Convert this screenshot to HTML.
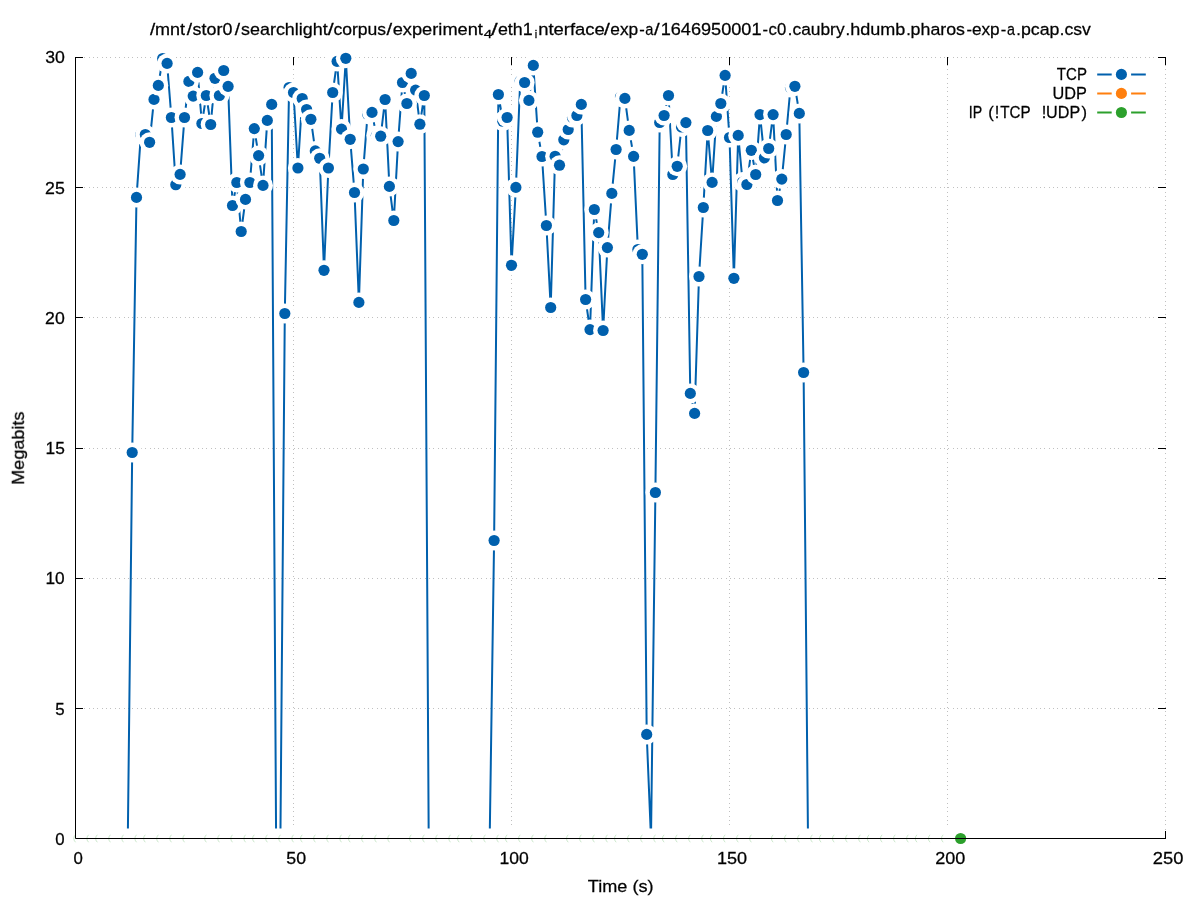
<!DOCTYPE html>
<html><head><meta charset="utf-8"><title>pcap throughput</title>
<style>html,body{margin:0;padding:0;background:#fff;}svg{display:block;}text{font-family:"Liberation Sans",sans-serif;fill:#000;}</style></head><body>
<svg width="1197" height="900" viewBox="0 0 1197 900">
<rect width="1197" height="900" fill="#fff"/>
<g stroke="#c0c0c0" stroke-width="1" stroke-dasharray="1 3 1 3 1 4 1 3 1 3 1 4 1 3 1 3 1 4 1 3 1 4" fill="none" shape-rendering="crispEdges">
<path d="M76.0 708.50H1165.5"/>
<path d="M76.0 578.50H1165.5"/>
<path d="M76.0 448.50H1165.5"/>
<path d="M76.0 317.50H1165.5"/>
<path d="M76.0 187.50H1165.5"/>
<path d="M76.0 57.50H1165.5"/>
<path d="M293.50 838.0V57.5"/>
<path d="M511.50 838.0V57.5"/>
<path d="M729.50 838.0V57.5"/>
<path d="M947.50 838.0V57.5"/>
<path d="M1165.50 838.0V57.5"/>
</g>
<g stroke="#000" stroke-width="1" fill="none">
<path d="M75.0 838.50h8.0M1166.0 838.50h-8.0"/>
<path d="M75.0 708.50h8.0M1166.0 708.50h-8.0"/>
<path d="M75.0 578.50h8.0M1166.0 578.50h-8.0"/>
<path d="M75.0 448.50h8.0M1166.0 448.50h-8.0"/>
<path d="M75.0 317.50h8.0M1166.0 317.50h-8.0"/>
<path d="M75.0 187.50h8.0M1166.0 187.50h-8.0"/>
<path d="M75.0 57.50h8.0M1166.0 57.50h-8.0"/>
<path d="M75.50 839.0v-8.0M75.50 57.0v8.0"/>
<path d="M293.50 839.0v-8.0M293.50 57.0v8.0"/>
<path d="M511.50 839.0v-8.0M511.50 57.0v8.0"/>
<path d="M729.50 839.0v-8.0M729.50 57.0v8.0"/>
<path d="M947.50 839.0v-8.0M947.50 57.0v8.0"/>
<path d="M1165.50 839.0v-8.0M1165.50 57.0v8.0"/>
</g>
<polyline fill="none" stroke="#0060ad" stroke-width="2" stroke-linejoin="round" points="75.5,838.5 79.9,838.5 84.2,838.5 88.6,838.5 92.9,838.5 97.3,838.5 101.7,838.5 106.0,838.5 110.4,838.5 114.7,838.5 119.1,838.5 123.5,838.5 127.8,838.5 132.2,452.5 136.5,197.4 140.9,134.4 145.3,134.5 149.6,142.3 154.0,99.4 158.3,85.4 162.7,58.5 167.1,63.4 171.4,117.5 175.8,184.7 180.1,174.4 184.5,117.5 188.9,81.4 193.2,96.1 197.6,72.4 201.9,123.5 206.3,95.5 210.7,124.5 215.0,78.3 219.4,95.5 223.7,70.5 228.1,86.4 232.5,205.5 236.8,182.5 241.2,231.5 245.5,199.4 249.9,182.5 254.3,128.6 258.6,155.6 263.0,185.4 267.3,120.4 271.7,104.4 276.1,838.5 280.4,838.5 284.8,313.5 289.1,87.5 293.5,92.5 297.9,168.0 302.2,98.5 306.6,109.5 310.9,119.3 315.3,150.9 319.7,158.3 324.0,270.3 328.4,168.0 332.7,92.5 337.1,61.4 341.5,129.1 345.8,58.3 350.2,139.3 354.5,192.5 358.9,302.4 363.3,169.0 367.6,114.2 372.0,112.4 376.3,135.6 380.7,136.2 385.1,99.5 389.4,186.4 393.8,220.5 398.1,141.6 402.5,82.5 406.9,103.5 411.2,73.4 415.6,90.1 419.9,124.2 424.3,95.5 428.7,838.5 433.0,838.5 437.4,838.5 441.7,838.5 446.1,838.5 450.5,838.5 454.8,838.5 459.2,838.5 463.5,838.5 467.9,838.5 472.3,838.5 476.6,838.5 481.0,838.5 485.3,838.5 489.7,838.5 494.1,540.5 498.4,94.5 502.8,121.2 507.1,117.5 511.5,265.3 515.9,187.4 520.2,81.0 524.6,82.5 528.9,100.4 533.3,65.4 537.7,132.2 542.0,156.5 546.4,225.5 550.7,307.5 555.1,156.3 559.5,165.2 563.8,139.8 568.2,129.5 572.5,117.5 576.9,115.5 581.3,104.4 585.6,299.5 590.0,329.6 594.3,209.5 598.7,232.6 603.1,330.5 607.4,247.6 611.8,193.4 616.1,149.5 620.5,97.0 624.9,98.4 629.2,130.4 633.6,156.4 637.9,249.5 642.3,254.3 646.7,734.4 651.0,838.5 655.4,492.5 659.7,122.5 664.1,115.5 668.5,95.5 672.8,174.5 677.2,166.3 681.5,127.0 685.9,122.6 690.3,393.4 694.6,413.4 699.0,276.5 703.3,207.5 707.7,130.5 712.1,182.4 716.4,116.4 720.8,103.5 725.1,75.4 729.5,137.5 733.9,278.3 738.2,135.4 742.6,182.0 746.9,184.5 751.3,150.3 755.7,174.5 760.0,114.6 764.4,157.8 768.7,148.5 773.1,114.6 777.5,200.5 781.8,179.1 786.2,134.5 790.5,87.5 794.9,86.3 799.3,113.4 803.6,372.5 808.0,838.5 812.3,838.5 816.7,838.5 821.1,838.5 825.4,838.5 829.8,838.5 834.1,838.5 838.5,838.5 842.9,838.5 847.2,838.5 851.6,838.5 855.9,838.5 860.3,838.5 864.7,838.5 869.0,838.5 873.4,838.5 877.7,838.5 882.1,838.5 886.5,838.5 890.8,838.5 895.2,838.5 899.5,838.5 903.9,838.5 908.3,838.5 912.6,838.5 917.0,838.5 921.3,838.5 925.7,838.5 930.1,838.5 934.4,838.5 938.8,838.5 943.1,838.5 947.5,838.5 951.9,838.5 956.2,838.5 960.6,838.5"/>
<g>
<circle cx="132.2" cy="452.5" r="10.0" fill="#fff"/><circle cx="132.2" cy="452.5" r="5.6" fill="#0060ad"/>
<circle cx="136.5" cy="197.4" r="10.0" fill="#fff"/><circle cx="136.5" cy="197.4" r="5.6" fill="#0060ad"/>
<circle cx="140.9" cy="134.4" r="10.0" fill="#fff"/><circle cx="140.9" cy="134.4" r="5.6" fill="#0060ad"/>
<circle cx="145.3" cy="134.5" r="10.0" fill="#fff"/><circle cx="145.3" cy="134.5" r="5.6" fill="#0060ad"/>
<circle cx="149.6" cy="142.3" r="10.0" fill="#fff"/><circle cx="149.6" cy="142.3" r="5.6" fill="#0060ad"/>
<circle cx="154.0" cy="99.4" r="10.0" fill="#fff"/><circle cx="154.0" cy="99.4" r="5.6" fill="#0060ad"/>
<circle cx="158.3" cy="85.4" r="10.0" fill="#fff"/><circle cx="158.3" cy="85.4" r="5.6" fill="#0060ad"/>
<circle cx="162.7" cy="58.5" r="10.0" fill="#fff"/><circle cx="162.7" cy="58.5" r="5.6" fill="#0060ad"/>
<circle cx="167.1" cy="63.4" r="10.0" fill="#fff"/><circle cx="167.1" cy="63.4" r="5.6" fill="#0060ad"/>
<circle cx="171.4" cy="117.5" r="10.0" fill="#fff"/><circle cx="171.4" cy="117.5" r="5.6" fill="#0060ad"/>
<circle cx="175.8" cy="184.7" r="10.0" fill="#fff"/><circle cx="175.8" cy="184.7" r="5.6" fill="#0060ad"/>
<circle cx="180.1" cy="174.4" r="10.0" fill="#fff"/><circle cx="180.1" cy="174.4" r="5.6" fill="#0060ad"/>
<circle cx="184.5" cy="117.5" r="10.0" fill="#fff"/><circle cx="184.5" cy="117.5" r="5.6" fill="#0060ad"/>
<circle cx="188.9" cy="81.4" r="10.0" fill="#fff"/><circle cx="188.9" cy="81.4" r="5.6" fill="#0060ad"/>
<circle cx="193.2" cy="96.1" r="10.0" fill="#fff"/><circle cx="193.2" cy="96.1" r="5.6" fill="#0060ad"/>
<circle cx="197.6" cy="72.4" r="10.0" fill="#fff"/><circle cx="197.6" cy="72.4" r="5.6" fill="#0060ad"/>
<circle cx="201.9" cy="123.5" r="10.0" fill="#fff"/><circle cx="201.9" cy="123.5" r="5.6" fill="#0060ad"/>
<circle cx="206.3" cy="95.5" r="10.0" fill="#fff"/><circle cx="206.3" cy="95.5" r="5.6" fill="#0060ad"/>
<circle cx="210.7" cy="124.5" r="10.0" fill="#fff"/><circle cx="210.7" cy="124.5" r="5.6" fill="#0060ad"/>
<circle cx="215.0" cy="78.3" r="10.0" fill="#fff"/><circle cx="215.0" cy="78.3" r="5.6" fill="#0060ad"/>
<circle cx="219.4" cy="95.5" r="10.0" fill="#fff"/><circle cx="219.4" cy="95.5" r="5.6" fill="#0060ad"/>
<circle cx="223.7" cy="70.5" r="10.0" fill="#fff"/><circle cx="223.7" cy="70.5" r="5.6" fill="#0060ad"/>
<circle cx="228.1" cy="86.4" r="10.0" fill="#fff"/><circle cx="228.1" cy="86.4" r="5.6" fill="#0060ad"/>
<circle cx="232.5" cy="205.5" r="10.0" fill="#fff"/><circle cx="232.5" cy="205.5" r="5.6" fill="#0060ad"/>
<circle cx="236.8" cy="182.5" r="10.0" fill="#fff"/><circle cx="236.8" cy="182.5" r="5.6" fill="#0060ad"/>
<circle cx="241.2" cy="231.5" r="10.0" fill="#fff"/><circle cx="241.2" cy="231.5" r="5.6" fill="#0060ad"/>
<circle cx="245.5" cy="199.4" r="10.0" fill="#fff"/><circle cx="245.5" cy="199.4" r="5.6" fill="#0060ad"/>
<circle cx="249.9" cy="182.5" r="10.0" fill="#fff"/><circle cx="249.9" cy="182.5" r="5.6" fill="#0060ad"/>
<circle cx="254.3" cy="128.6" r="10.0" fill="#fff"/><circle cx="254.3" cy="128.6" r="5.6" fill="#0060ad"/>
<circle cx="258.6" cy="155.6" r="10.0" fill="#fff"/><circle cx="258.6" cy="155.6" r="5.6" fill="#0060ad"/>
<circle cx="263.0" cy="185.4" r="10.0" fill="#fff"/><circle cx="263.0" cy="185.4" r="5.6" fill="#0060ad"/>
<circle cx="267.3" cy="120.4" r="10.0" fill="#fff"/><circle cx="267.3" cy="120.4" r="5.6" fill="#0060ad"/>
<circle cx="271.7" cy="104.4" r="10.0" fill="#fff"/><circle cx="271.7" cy="104.4" r="5.6" fill="#0060ad"/>
<circle cx="284.8" cy="313.5" r="10.0" fill="#fff"/><circle cx="284.8" cy="313.5" r="5.6" fill="#0060ad"/>
<circle cx="289.1" cy="87.5" r="10.0" fill="#fff"/><circle cx="289.1" cy="87.5" r="5.6" fill="#0060ad"/>
<circle cx="293.5" cy="92.5" r="10.0" fill="#fff"/><circle cx="293.5" cy="92.5" r="5.6" fill="#0060ad"/>
<circle cx="297.9" cy="168.0" r="10.0" fill="#fff"/><circle cx="297.9" cy="168.0" r="5.6" fill="#0060ad"/>
<circle cx="302.2" cy="98.5" r="10.0" fill="#fff"/><circle cx="302.2" cy="98.5" r="5.6" fill="#0060ad"/>
<circle cx="306.6" cy="109.5" r="10.0" fill="#fff"/><circle cx="306.6" cy="109.5" r="5.6" fill="#0060ad"/>
<circle cx="310.9" cy="119.3" r="10.0" fill="#fff"/><circle cx="310.9" cy="119.3" r="5.6" fill="#0060ad"/>
<circle cx="315.3" cy="150.9" r="10.0" fill="#fff"/><circle cx="315.3" cy="150.9" r="5.6" fill="#0060ad"/>
<circle cx="319.7" cy="158.3" r="10.0" fill="#fff"/><circle cx="319.7" cy="158.3" r="5.6" fill="#0060ad"/>
<circle cx="324.0" cy="270.3" r="10.0" fill="#fff"/><circle cx="324.0" cy="270.3" r="5.6" fill="#0060ad"/>
<circle cx="328.4" cy="168.0" r="10.0" fill="#fff"/><circle cx="328.4" cy="168.0" r="5.6" fill="#0060ad"/>
<circle cx="332.7" cy="92.5" r="10.0" fill="#fff"/><circle cx="332.7" cy="92.5" r="5.6" fill="#0060ad"/>
<circle cx="337.1" cy="61.4" r="10.0" fill="#fff"/><circle cx="337.1" cy="61.4" r="5.6" fill="#0060ad"/>
<circle cx="341.5" cy="129.1" r="10.0" fill="#fff"/><circle cx="341.5" cy="129.1" r="5.6" fill="#0060ad"/>
<circle cx="345.8" cy="58.3" r="10.0" fill="#fff"/><circle cx="345.8" cy="58.3" r="5.6" fill="#0060ad"/>
<circle cx="350.2" cy="139.3" r="10.0" fill="#fff"/><circle cx="350.2" cy="139.3" r="5.6" fill="#0060ad"/>
<circle cx="354.5" cy="192.5" r="10.0" fill="#fff"/><circle cx="354.5" cy="192.5" r="5.6" fill="#0060ad"/>
<circle cx="358.9" cy="302.4" r="10.0" fill="#fff"/><circle cx="358.9" cy="302.4" r="5.6" fill="#0060ad"/>
<circle cx="363.3" cy="169.0" r="10.0" fill="#fff"/><circle cx="363.3" cy="169.0" r="5.6" fill="#0060ad"/>
<circle cx="367.6" cy="114.2" r="10.0" fill="#fff"/><circle cx="367.6" cy="114.2" r="5.6" fill="#0060ad"/>
<circle cx="372.0" cy="112.4" r="10.0" fill="#fff"/><circle cx="372.0" cy="112.4" r="5.6" fill="#0060ad"/>
<circle cx="376.3" cy="135.6" r="10.0" fill="#fff"/><circle cx="376.3" cy="135.6" r="5.6" fill="#0060ad"/>
<circle cx="380.7" cy="136.2" r="10.0" fill="#fff"/><circle cx="380.7" cy="136.2" r="5.6" fill="#0060ad"/>
<circle cx="385.1" cy="99.5" r="10.0" fill="#fff"/><circle cx="385.1" cy="99.5" r="5.6" fill="#0060ad"/>
<circle cx="389.4" cy="186.4" r="10.0" fill="#fff"/><circle cx="389.4" cy="186.4" r="5.6" fill="#0060ad"/>
<circle cx="393.8" cy="220.5" r="10.0" fill="#fff"/><circle cx="393.8" cy="220.5" r="5.6" fill="#0060ad"/>
<circle cx="398.1" cy="141.6" r="10.0" fill="#fff"/><circle cx="398.1" cy="141.6" r="5.6" fill="#0060ad"/>
<circle cx="402.5" cy="82.5" r="10.0" fill="#fff"/><circle cx="402.5" cy="82.5" r="5.6" fill="#0060ad"/>
<circle cx="406.9" cy="103.5" r="10.0" fill="#fff"/><circle cx="406.9" cy="103.5" r="5.6" fill="#0060ad"/>
<circle cx="411.2" cy="73.4" r="10.0" fill="#fff"/><circle cx="411.2" cy="73.4" r="5.6" fill="#0060ad"/>
<circle cx="415.6" cy="90.1" r="10.0" fill="#fff"/><circle cx="415.6" cy="90.1" r="5.6" fill="#0060ad"/>
<circle cx="419.9" cy="124.2" r="10.0" fill="#fff"/><circle cx="419.9" cy="124.2" r="5.6" fill="#0060ad"/>
<circle cx="424.3" cy="95.5" r="10.0" fill="#fff"/><circle cx="424.3" cy="95.5" r="5.6" fill="#0060ad"/>
<circle cx="494.1" cy="540.5" r="10.0" fill="#fff"/><circle cx="494.1" cy="540.5" r="5.6" fill="#0060ad"/>
<circle cx="498.4" cy="94.5" r="10.0" fill="#fff"/><circle cx="498.4" cy="94.5" r="5.6" fill="#0060ad"/>
<circle cx="502.8" cy="121.2" r="10.0" fill="#fff"/><circle cx="502.8" cy="121.2" r="5.6" fill="#0060ad"/>
<circle cx="507.1" cy="117.5" r="10.0" fill="#fff"/><circle cx="507.1" cy="117.5" r="5.6" fill="#0060ad"/>
<circle cx="511.5" cy="265.3" r="10.0" fill="#fff"/><circle cx="511.5" cy="265.3" r="5.6" fill="#0060ad"/>
<circle cx="515.9" cy="187.4" r="10.0" fill="#fff"/><circle cx="515.9" cy="187.4" r="5.6" fill="#0060ad"/>
<circle cx="520.2" cy="81.0" r="10.0" fill="#fff"/><circle cx="520.2" cy="81.0" r="5.6" fill="#0060ad"/>
<circle cx="524.6" cy="82.5" r="10.0" fill="#fff"/><circle cx="524.6" cy="82.5" r="5.6" fill="#0060ad"/>
<circle cx="528.9" cy="100.4" r="10.0" fill="#fff"/><circle cx="528.9" cy="100.4" r="5.6" fill="#0060ad"/>
<circle cx="533.3" cy="65.4" r="10.0" fill="#fff"/><circle cx="533.3" cy="65.4" r="5.6" fill="#0060ad"/>
<circle cx="537.7" cy="132.2" r="10.0" fill="#fff"/><circle cx="537.7" cy="132.2" r="5.6" fill="#0060ad"/>
<circle cx="542.0" cy="156.5" r="10.0" fill="#fff"/><circle cx="542.0" cy="156.5" r="5.6" fill="#0060ad"/>
<circle cx="546.4" cy="225.5" r="10.0" fill="#fff"/><circle cx="546.4" cy="225.5" r="5.6" fill="#0060ad"/>
<circle cx="550.7" cy="307.5" r="10.0" fill="#fff"/><circle cx="550.7" cy="307.5" r="5.6" fill="#0060ad"/>
<circle cx="555.1" cy="156.3" r="10.0" fill="#fff"/><circle cx="555.1" cy="156.3" r="5.6" fill="#0060ad"/>
<circle cx="559.5" cy="165.2" r="10.0" fill="#fff"/><circle cx="559.5" cy="165.2" r="5.6" fill="#0060ad"/>
<circle cx="563.8" cy="139.8" r="10.0" fill="#fff"/><circle cx="563.8" cy="139.8" r="5.6" fill="#0060ad"/>
<circle cx="568.2" cy="129.5" r="10.0" fill="#fff"/><circle cx="568.2" cy="129.5" r="5.6" fill="#0060ad"/>
<circle cx="572.5" cy="117.5" r="10.0" fill="#fff"/><circle cx="572.5" cy="117.5" r="5.6" fill="#0060ad"/>
<circle cx="576.9" cy="115.5" r="10.0" fill="#fff"/><circle cx="576.9" cy="115.5" r="5.6" fill="#0060ad"/>
<circle cx="581.3" cy="104.4" r="10.0" fill="#fff"/><circle cx="581.3" cy="104.4" r="5.6" fill="#0060ad"/>
<circle cx="585.6" cy="299.5" r="10.0" fill="#fff"/><circle cx="585.6" cy="299.5" r="5.6" fill="#0060ad"/>
<circle cx="590.0" cy="329.6" r="10.0" fill="#fff"/><circle cx="590.0" cy="329.6" r="5.6" fill="#0060ad"/>
<circle cx="594.3" cy="209.5" r="10.0" fill="#fff"/><circle cx="594.3" cy="209.5" r="5.6" fill="#0060ad"/>
<circle cx="598.7" cy="232.6" r="10.0" fill="#fff"/><circle cx="598.7" cy="232.6" r="5.6" fill="#0060ad"/>
<circle cx="603.1" cy="330.5" r="10.0" fill="#fff"/><circle cx="603.1" cy="330.5" r="5.6" fill="#0060ad"/>
<circle cx="607.4" cy="247.6" r="10.0" fill="#fff"/><circle cx="607.4" cy="247.6" r="5.6" fill="#0060ad"/>
<circle cx="611.8" cy="193.4" r="10.0" fill="#fff"/><circle cx="611.8" cy="193.4" r="5.6" fill="#0060ad"/>
<circle cx="616.1" cy="149.5" r="10.0" fill="#fff"/><circle cx="616.1" cy="149.5" r="5.6" fill="#0060ad"/>
<circle cx="620.5" cy="97.0" r="10.0" fill="#fff"/><circle cx="620.5" cy="97.0" r="5.6" fill="#0060ad"/>
<circle cx="624.9" cy="98.4" r="10.0" fill="#fff"/><circle cx="624.9" cy="98.4" r="5.6" fill="#0060ad"/>
<circle cx="629.2" cy="130.4" r="10.0" fill="#fff"/><circle cx="629.2" cy="130.4" r="5.6" fill="#0060ad"/>
<circle cx="633.6" cy="156.4" r="10.0" fill="#fff"/><circle cx="633.6" cy="156.4" r="5.6" fill="#0060ad"/>
<circle cx="637.9" cy="249.5" r="10.0" fill="#fff"/><circle cx="637.9" cy="249.5" r="5.6" fill="#0060ad"/>
<circle cx="642.3" cy="254.3" r="10.0" fill="#fff"/><circle cx="642.3" cy="254.3" r="5.6" fill="#0060ad"/>
<circle cx="646.7" cy="734.4" r="10.0" fill="#fff"/><circle cx="646.7" cy="734.4" r="5.6" fill="#0060ad"/>
<circle cx="655.4" cy="492.5" r="10.0" fill="#fff"/><circle cx="655.4" cy="492.5" r="5.6" fill="#0060ad"/>
<circle cx="659.7" cy="122.5" r="10.0" fill="#fff"/><circle cx="659.7" cy="122.5" r="5.6" fill="#0060ad"/>
<circle cx="664.1" cy="115.5" r="10.0" fill="#fff"/><circle cx="664.1" cy="115.5" r="5.6" fill="#0060ad"/>
<circle cx="668.5" cy="95.5" r="10.0" fill="#fff"/><circle cx="668.5" cy="95.5" r="5.6" fill="#0060ad"/>
<circle cx="672.8" cy="174.5" r="10.0" fill="#fff"/><circle cx="672.8" cy="174.5" r="5.6" fill="#0060ad"/>
<circle cx="677.2" cy="166.3" r="10.0" fill="#fff"/><circle cx="677.2" cy="166.3" r="5.6" fill="#0060ad"/>
<circle cx="681.5" cy="127.0" r="10.0" fill="#fff"/><circle cx="681.5" cy="127.0" r="5.6" fill="#0060ad"/>
<circle cx="685.9" cy="122.6" r="10.0" fill="#fff"/><circle cx="685.9" cy="122.6" r="5.6" fill="#0060ad"/>
<circle cx="690.3" cy="393.4" r="10.0" fill="#fff"/><circle cx="690.3" cy="393.4" r="5.6" fill="#0060ad"/>
<circle cx="694.6" cy="413.4" r="10.0" fill="#fff"/><circle cx="694.6" cy="413.4" r="5.6" fill="#0060ad"/>
<circle cx="699.0" cy="276.5" r="10.0" fill="#fff"/><circle cx="699.0" cy="276.5" r="5.6" fill="#0060ad"/>
<circle cx="703.3" cy="207.5" r="10.0" fill="#fff"/><circle cx="703.3" cy="207.5" r="5.6" fill="#0060ad"/>
<circle cx="707.7" cy="130.5" r="10.0" fill="#fff"/><circle cx="707.7" cy="130.5" r="5.6" fill="#0060ad"/>
<circle cx="712.1" cy="182.4" r="10.0" fill="#fff"/><circle cx="712.1" cy="182.4" r="5.6" fill="#0060ad"/>
<circle cx="716.4" cy="116.4" r="10.0" fill="#fff"/><circle cx="716.4" cy="116.4" r="5.6" fill="#0060ad"/>
<circle cx="720.8" cy="103.5" r="10.0" fill="#fff"/><circle cx="720.8" cy="103.5" r="5.6" fill="#0060ad"/>
<circle cx="725.1" cy="75.4" r="10.0" fill="#fff"/><circle cx="725.1" cy="75.4" r="5.6" fill="#0060ad"/>
<circle cx="729.5" cy="137.5" r="10.0" fill="#fff"/><circle cx="729.5" cy="137.5" r="5.6" fill="#0060ad"/>
<circle cx="733.9" cy="278.3" r="10.0" fill="#fff"/><circle cx="733.9" cy="278.3" r="5.6" fill="#0060ad"/>
<circle cx="738.2" cy="135.4" r="10.0" fill="#fff"/><circle cx="738.2" cy="135.4" r="5.6" fill="#0060ad"/>
<circle cx="742.6" cy="182.0" r="10.0" fill="#fff"/><circle cx="742.6" cy="182.0" r="5.6" fill="#0060ad"/>
<circle cx="746.9" cy="184.5" r="10.0" fill="#fff"/><circle cx="746.9" cy="184.5" r="5.6" fill="#0060ad"/>
<circle cx="751.3" cy="150.3" r="10.0" fill="#fff"/><circle cx="751.3" cy="150.3" r="5.6" fill="#0060ad"/>
<circle cx="755.7" cy="174.5" r="10.0" fill="#fff"/><circle cx="755.7" cy="174.5" r="5.6" fill="#0060ad"/>
<circle cx="760.0" cy="114.6" r="10.0" fill="#fff"/><circle cx="760.0" cy="114.6" r="5.6" fill="#0060ad"/>
<circle cx="764.4" cy="157.8" r="10.0" fill="#fff"/><circle cx="764.4" cy="157.8" r="5.6" fill="#0060ad"/>
<circle cx="768.7" cy="148.5" r="10.0" fill="#fff"/><circle cx="768.7" cy="148.5" r="5.6" fill="#0060ad"/>
<circle cx="773.1" cy="114.6" r="10.0" fill="#fff"/><circle cx="773.1" cy="114.6" r="5.6" fill="#0060ad"/>
<circle cx="777.5" cy="200.5" r="10.0" fill="#fff"/><circle cx="777.5" cy="200.5" r="5.6" fill="#0060ad"/>
<circle cx="781.8" cy="179.1" r="10.0" fill="#fff"/><circle cx="781.8" cy="179.1" r="5.6" fill="#0060ad"/>
<circle cx="786.2" cy="134.5" r="10.0" fill="#fff"/><circle cx="786.2" cy="134.5" r="5.6" fill="#0060ad"/>
<circle cx="790.5" cy="87.5" r="10.0" fill="#fff"/><circle cx="790.5" cy="87.5" r="5.6" fill="#0060ad"/>
<circle cx="794.9" cy="86.3" r="10.0" fill="#fff"/><circle cx="794.9" cy="86.3" r="5.6" fill="#0060ad"/>
<circle cx="799.3" cy="113.4" r="10.0" fill="#fff"/><circle cx="799.3" cy="113.4" r="5.6" fill="#0060ad"/>
<circle cx="803.6" cy="372.5" r="10.0" fill="#fff"/><circle cx="803.6" cy="372.5" r="5.6" fill="#0060ad"/>
</g>
<path d="M75.5 838.5H960.6" stroke="#fff" stroke-width="20.0" stroke-linecap="round" fill="none"/>
<g fill="none" stroke="#2ca02c" stroke-opacity="0.35" stroke-width="0.7">
<path d="M75.50 834.75A5.6 5.6 0 0 0 75.50 842.25"/>
<path d="M88.58 834.75A5.6 5.6 0 0 0 88.58 842.25"/>
<path d="M97.30 834.75A5.6 5.6 0 0 0 97.30 842.25"/>
<path d="M110.38 834.75A5.6 5.6 0 0 0 110.38 842.25"/>
<path d="M123.46 834.75A5.6 5.6 0 0 0 123.46 842.25"/>
<path d="M136.54 834.75A5.6 5.6 0 0 0 136.54 842.25"/>
<path d="M145.26 834.75A5.6 5.6 0 0 0 145.26 842.25"/>
<path d="M158.34 834.75A5.6 5.6 0 0 0 158.34 842.25"/>
<path d="M171.42 834.75A5.6 5.6 0 0 0 171.42 842.25"/>
<path d="M184.50 834.75A5.6 5.6 0 0 0 184.50 842.25"/>
<path d="M206.30 834.75A5.6 5.6 0 0 0 206.30 842.25"/>
<path d="M219.38 834.75A5.6 5.6 0 0 0 219.38 842.25"/>
<path d="M232.46 834.75A5.6 5.6 0 0 0 232.46 842.25"/>
<path d="M245.54 834.75A5.6 5.6 0 0 0 245.54 842.25"/>
<path d="M254.26 834.75A5.6 5.6 0 0 0 254.26 842.25"/>
<path d="M267.34 834.75A5.6 5.6 0 0 0 267.34 842.25"/>
<path d="M280.42 834.75A5.6 5.6 0 0 0 280.42 842.25"/>
<path d="M293.50 834.75A5.6 5.6 0 0 0 293.50 842.25"/>
<path d="M302.22 834.75A5.6 5.6 0 0 0 302.22 842.25"/>
<path d="M315.30 834.75A5.6 5.6 0 0 0 315.30 842.25"/>
<path d="M328.38 834.75A5.6 5.6 0 0 0 328.38 842.25"/>
<path d="M341.46 834.75A5.6 5.6 0 0 0 341.46 842.25"/>
<path d="M350.18 834.75A5.6 5.6 0 0 0 350.18 842.25"/>
<path d="M363.26 834.75A5.6 5.6 0 0 0 363.26 842.25"/>
<path d="M376.34 834.75A5.6 5.6 0 0 0 376.34 842.25"/>
<path d="M389.42 834.75A5.6 5.6 0 0 0 389.42 842.25"/>
<path d="M411.22 834.75A5.6 5.6 0 0 0 411.22 842.25"/>
<path d="M424.30 834.75A5.6 5.6 0 0 0 424.30 842.25"/>
<path d="M437.38 834.75A5.6 5.6 0 0 0 437.38 842.25"/>
<path d="M450.46 834.75A5.6 5.6 0 0 0 450.46 842.25"/>
<path d="M459.18 834.75A5.6 5.6 0 0 0 459.18 842.25"/>
<path d="M472.26 834.75A5.6 5.6 0 0 0 472.26 842.25"/>
<path d="M485.34 834.75A5.6 5.6 0 0 0 485.34 842.25"/>
<path d="M498.42 834.75A5.6 5.6 0 0 0 498.42 842.25"/>
<path d="M507.14 834.75A5.6 5.6 0 0 0 507.14 842.25"/>
<path d="M520.22 834.75A5.6 5.6 0 0 0 520.22 842.25"/>
<path d="M533.30 834.75A5.6 5.6 0 0 0 533.30 842.25"/>
<path d="M546.38 834.75A5.6 5.6 0 0 0 546.38 842.25"/>
<path d="M568.18 834.75A5.6 5.6 0 0 0 568.18 842.25"/>
<path d="M581.26 834.75A5.6 5.6 0 0 0 581.26 842.25"/>
<path d="M594.34 834.75A5.6 5.6 0 0 0 594.34 842.25"/>
<path d="M607.42 834.75A5.6 5.6 0 0 0 607.42 842.25"/>
<path d="M616.14 834.75A5.6 5.6 0 0 0 616.14 842.25"/>
<path d="M629.22 834.75A5.6 5.6 0 0 0 629.22 842.25"/>
<path d="M642.30 834.75A5.6 5.6 0 0 0 642.30 842.25"/>
<path d="M655.38 834.75A5.6 5.6 0 0 0 655.38 842.25"/>
<path d="M664.10 834.75A5.6 5.6 0 0 0 664.10 842.25"/>
<path d="M677.18 834.75A5.6 5.6 0 0 0 677.18 842.25"/>
<path d="M690.26 834.75A5.6 5.6 0 0 0 690.26 842.25"/>
<path d="M703.34 834.75A5.6 5.6 0 0 0 703.34 842.25"/>
<path d="M712.06 834.75A5.6 5.6 0 0 0 712.06 842.25"/>
<path d="M725.14 834.75A5.6 5.6 0 0 0 725.14 842.25"/>
<path d="M738.22 834.75A5.6 5.6 0 0 0 738.22 842.25"/>
<path d="M751.30 834.75A5.6 5.6 0 0 0 751.30 842.25"/>
<path d="M773.10 834.75A5.6 5.6 0 0 0 773.10 842.25"/>
<path d="M786.18 834.75A5.6 5.6 0 0 0 786.18 842.25"/>
<path d="M799.26 834.75A5.6 5.6 0 0 0 799.26 842.25"/>
<path d="M812.34 834.75A5.6 5.6 0 0 0 812.34 842.25"/>
<path d="M821.06 834.75A5.6 5.6 0 0 0 821.06 842.25"/>
<path d="M834.14 834.75A5.6 5.6 0 0 0 834.14 842.25"/>
<path d="M847.22 834.75A5.6 5.6 0 0 0 847.22 842.25"/>
<path d="M860.30 834.75A5.6 5.6 0 0 0 860.30 842.25"/>
<path d="M869.02 834.75A5.6 5.6 0 0 0 869.02 842.25"/>
<path d="M882.10 834.75A5.6 5.6 0 0 0 882.10 842.25"/>
<path d="M895.18 834.75A5.6 5.6 0 0 0 895.18 842.25"/>
<path d="M908.26 834.75A5.6 5.6 0 0 0 908.26 842.25"/>
<path d="M916.98 834.75A5.6 5.6 0 0 0 916.98 842.25"/>
<path d="M930.06 834.75A5.6 5.6 0 0 0 930.06 842.25"/>
<path d="M943.14 834.75A5.6 5.6 0 0 0 943.14 842.25"/>
</g>
<circle cx="960.6" cy="838.5" r="5.6" fill="#2ca02c"/>
<path d="M75.5 57.0V838.5H1166.0" fill="none" stroke="#000" stroke-width="1" stroke-linejoin="miter"/>
<path d="M1097.2 74.4H1111.7M1131.1 74.4H1145.8" stroke="#0060ad" stroke-width="2" fill="none"/><circle cx="1121.4" cy="74.4" r="5.55" fill="#0060ad"/>
<path d="M1097.2 93.4H1111.7M1131.1 93.4H1145.8" stroke="#ff7f0e" stroke-width="2" fill="none"/><circle cx="1121.4" cy="93.4" r="5.55" fill="#ff7f0e"/>
<path d="M1097.2 112.5H1111.7M1131.1 112.5H1145.8" stroke="#2ca02c" stroke-width="2" fill="none"/><circle cx="1121.4" cy="112.5" r="5.55" fill="#2ca02c"/>
<g opacity="0.999" stroke="#000" stroke-width="0.26">
<text transform="translate(150.10,34.70) scale(1.1421,1)" font-size="16.5">/</text>
<text transform="translate(154.97,34.70) scale(1.0931,1)" font-size="16.5">mnt</text>
<text transform="translate(186.70,34.70) scale(1.1636,1)" font-size="16.5">/</text>
<text transform="translate(192.62,34.70) scale(1.0829,1)" font-size="16.5">stor0</text>
<text transform="translate(234.80,34.70) scale(1.1636,1)" font-size="16.5">/</text>
<text transform="translate(241.02,34.70) scale(1.0868,1)" font-size="16.5">searchlight</text>
<text transform="translate(327.80,34.70) scale(1.2929,1)" font-size="16.5">/</text>
<text transform="translate(333.45,34.70) scale(1.0641,1)" font-size="16.5">corpus</text>
<text transform="translate(386.60,34.70) scale(1.2283,1)" font-size="16.5">/</text>
<text transform="translate(392.73,34.70) scale(1.1064,1)" font-size="16.5">experiment</text>
<text transform="translate(491.30,34.70) scale(1.4007,1)" font-size="16.5">/</text>
<text transform="translate(497.94,34.70) scale(1.0799,1)" font-size="16.5">eth1</text>
<text transform="translate(538.15,34.70) scale(1.1188,1)" font-size="16.5">nterface</text>
<text transform="translate(604.10,34.70) scale(1.2714,1)" font-size="16.5">/</text>
<text transform="translate(610.26,34.70) scale(1.0504,1)" font-size="16.5">exp</text>
<text transform="translate(639.29,34.70) scale(1.0000,1)" font-size="16.5">-</text>
<text transform="translate(645.34,34.70) scale(0.8898,1)" font-size="16.5">a</text>
<text transform="translate(654.10,34.70) scale(1.2283,1)" font-size="16.5">/</text>
<text transform="translate(660.67,34.70) scale(1.0992,1)" font-size="16.5">1646950001</text>
<text transform="translate(762.44,34.70) scale(1.0000,1)" font-size="16.5">-</text>
<text transform="translate(768.58,34.70) scale(1.0121,1)" font-size="16.5">c0</text>
<text transform="translate(787.81,34.70) scale(1.0000,1)" font-size="16.5">.</text>
<text transform="translate(792.56,34.70) scale(1.0508,1)" font-size="16.5">caubry</text>
<text transform="translate(845.61,34.70) scale(1.0000,1)" font-size="16.5">.</text>
<text transform="translate(850.17,34.70) scale(1.0933,1)" font-size="16.5">hdumb</text>
<text transform="translate(906.16,34.70) scale(1.0000,1)" font-size="16.5">.</text>
<text transform="translate(910.59,34.70) scale(1.0797,1)" font-size="16.5">pharos</text>
<text transform="translate(966.44,34.70) scale(1.0000,1)" font-size="16.5">-</text>
<text transform="translate(971.96,34.70) scale(1.0425,1)" font-size="16.5">exp</text>
<text transform="translate(1000.79,34.70) scale(1.0000,1)" font-size="16.5">-</text>
<text transform="translate(1007.05,34.70) scale(0.8670,1)" font-size="16.5">a</text>
<text transform="translate(1016.36,34.70) scale(1.0000,1)" font-size="16.5">.</text>
<text transform="translate(1020.99,34.70) scale(1.0769,1)" font-size="16.5">pcap</text>
<text transform="translate(1059.76,34.70) scale(1.0000,1)" font-size="16.5">.</text>
<text transform="translate(1064.55,34.70) scale(1.0646,1)" font-size="16.5">csv</text>
<text transform="translate(483.66,38.10) scale(1.3752,1)" font-size="11.0">4</text>
<text transform="translate(534.70,38.10) scale(1.0000,1)" font-size="11.0">i</text>
<text transform="translate(45.15,62.90) scale(1.0731,1)" font-size="16.5">30</text>
<text transform="translate(45.07,194.00) scale(1.0762,1)" font-size="16.5">25</text>
<text transform="translate(45.07,324.00) scale(1.0717,1)" font-size="16.5">20</text>
<text transform="translate(45.62,453.90) scale(1.0509,1)" font-size="16.5">15</text>
<text transform="translate(45.52,584.00) scale(1.0467,1)" font-size="16.5">10</text>
<text transform="translate(55.37,714.90) scale(1.0260,1)" font-size="16.5">5</text>
<text transform="translate(55.27,844.90) scale(1.0182,1)" font-size="16.5">0</text>
<text transform="translate(73.38,864.00) scale(1.0182,1)" font-size="16.5">0</text>
<text transform="translate(286.34,864.00) scale(1.0788,1)" font-size="16.5">50</text>
<text transform="translate(499.50,864.00) scale(1.0656,1)" font-size="16.5">100</text>
<text transform="translate(716.97,864.00) scale(1.0963,1)" font-size="16.5">150</text>
<text transform="translate(935.15,864.00) scale(1.0932,1)" font-size="16.5">200</text>
<text transform="translate(1152.84,864.00) scale(1.1122,1)" font-size="16.5">250</text>
<text transform="translate(587.82,891.90) scale(1.0976,1)" font-size="16.5">Time (s)</text>
<text transform="translate(1056.87,79.90) scale(0.9111,1)" font-size="16.5">TCP</text>
<text transform="translate(1052.58,98.80) scale(0.9875,1)" font-size="16.5">UDP</text>
<text transform="translate(968.79,117.90) scale(0.8598,1)" font-size="16.5">IP</text>
<text transform="translate(988.16,117.90) scale(1.0000,1)" font-size="16.5">(</text>
<text transform="translate(994.66,117.90) scale(1.0000,1)" font-size="16.5">!</text>
<text transform="translate(1000.16,117.90) scale(0.9205,1)" font-size="16.5">TCP</text>
<text transform="translate(1041.71,117.90) scale(1.0000,1)" font-size="16.5">!</text>
<text transform="translate(1046.09,117.90) scale(0.9785,1)" font-size="16.5">UDP</text>
<text transform="translate(1081.53,117.90) scale(1.0000,1)" font-size="16.5">)</text>
<text transform="translate(23.90,484.71) rotate(-90) scale(1.0945,1)" font-size="16.5">Megabits</text>
</g>
</svg></body></html>
